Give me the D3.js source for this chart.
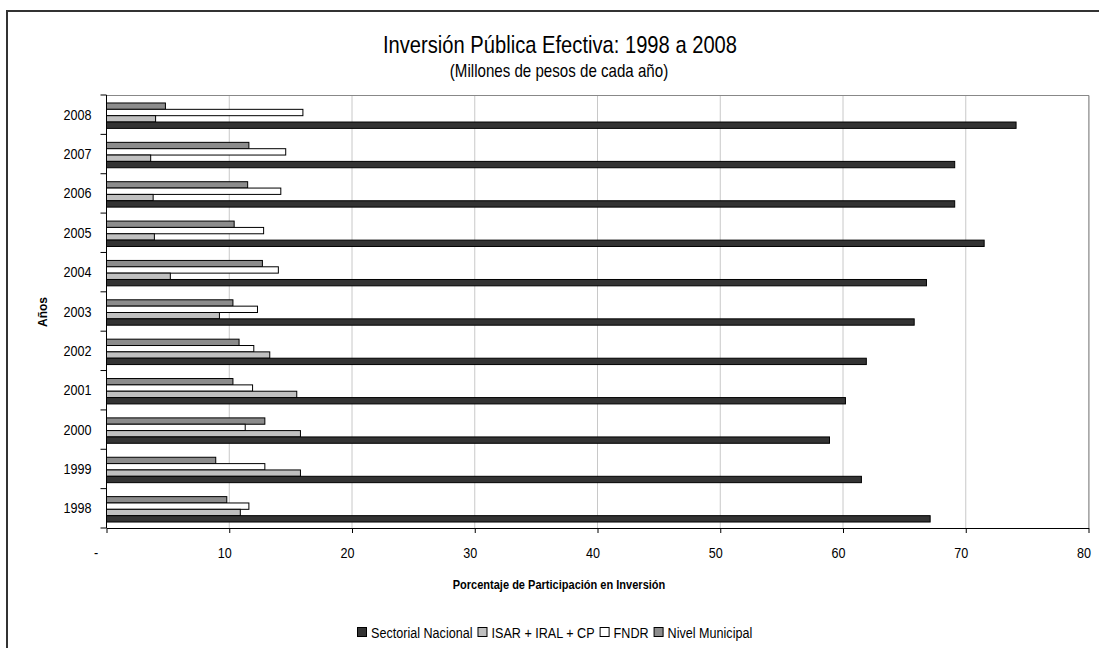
<!DOCTYPE html>
<html>
<head>
<meta charset="utf-8">
<script src="https://cdn.jsdelivr.net/npm/d3@7"></script>
<style>
  body { margin: 0; background: #fff; }
  svg { display: block; font-family: "Liberation Sans", Arial, sans-serif; }
</style>
</head>
<body>
<div id="chart"></div>
<script>
// years top to bottom as drawn
const years = ["2008", "2007", "2006", "2005", "2004", "2003", "2002", "2001", "2000", "1999", "1998"];
// series, top bar to bottom bar inside each year
const seriesNames = ["Nivel Municipal", "FNDR", "ISAR + IRAL + CP", "Sectorial Nacional"];
const nivelMunicipal = [4.8, 11.6, 11.5, 10.4, 12.7, 10.3, 10.8, 10.3, 12.9, 8.9, 9.8];
const fndr = [16.0, 14.6, 14.2, 12.8, 14.0, 12.3, 12.0, 11.9, 11.3, 12.9, 11.6];
const isar = [4.0, 3.6, 3.8, 3.9, 5.2, 9.2, 13.3, 15.5, 15.8, 15.8, 10.9];
const sectorial = [74.1, 69.1, 69.1, 71.5, 66.8, 65.8, 61.9, 60.2, 58.9, 61.5, 67.1];
const xTicks = [0, 10, 20, 30, 40, 50, 60, 70, 80];
const legendOrder = ["Sectorial Nacional", "ISAR + IRAL + CP", "FNDR", "Nivel Municipal"];

const colors = {
  "Nivel Municipal": "#8c8c8c",
  "FNDR": "#ffffff",
  "ISAR + IRAL + CP": "#c0c0c0",
  "Sectorial Nacional": "#333333"
};
const valuesBySeries = {
  "Nivel Municipal": nivelMunicipal,
  "FNDR": fndr,
  "ISAR + IRAL + CP": isar,
  "Sectorial Nacional": sectorial
};

const W = 1099, H = 648;
const plotLeft = 106.5, plotRight = 1088.5, plotTop = 95, plotBottom = 528;
const narrow = 0.84; // squeeze text to look like Arial Narrow

const svg = d3.select("#chart").append("svg")
  .attr("width", W)
  .attr("height", H);

// outer chart border (runs off the picture on right and bottom)
svg.append("rect")
  .attr("x", 7).attr("y", 11)
  .attr("width", 1200).attr("height", 800)
  .attr("fill", "none")
  .attr("stroke", "#333")
  .attr("stroke-width", 2);

const x = d3.scaleLinear().domain([0, 80]).range([plotLeft, plotRight]);
const y = d3.scaleBand().domain(years).range([plotTop, plotBottom]);
const yInner = d3.scaleBand().domain(seriesNames).range([0, y.bandwidth()]).paddingOuter(1.1);

// places a squeezed text at x,y
const label = (parent, tx, ty, str, size, anchor, sx) => {
  return parent.append("text")
    .attr("transform", `translate(${tx},${ty}) scale(${sx || narrow},1)`)
    .attr("text-anchor", anchor || "middle")
    .attr("font-size", size)
    .attr("fill", "#000")
    .text(str);
};

// gridlines
svg.append("g")
  .selectAll("line")
  .data(xTicks.slice(1))
  .enter()
  .append("line")
  .attr("x1", d => x(d)).attr("x2", d => x(d))
  .attr("y1", plotTop).attr("y2", plotBottom)
  .attr("stroke", "#c8c8c8")
  .attr("stroke-width", 1);

// plot area frame (top + right grey)
svg.append("path")
  .attr("d", `M${plotLeft},${plotTop + 0.5}H${plotRight + 0.5}V${plotBottom}`)
  .attr("fill", "none")
  .attr("stroke", "#888")
  .attr("stroke-width", 1);

// bars
const rows = [];
years.forEach((yr, i) => {
  seriesNames.forEach(s => {
    rows.push({ year: yr, series: s, value: valuesBySeries[s][i] });
  });
});

svg.append("g")
  .selectAll("rect")
  .data(rows)
  .enter()
  .append("rect")
  .attr("x", x(0))
  .attr("y", d => y(d.year) + yInner(d.series) + 1)
  .attr("width", d => x(d.value) - x(0))
  .attr("height", yInner.bandwidth())
  .attr("fill", d => colors[d.series])
  .attr("stroke", "#000")
  .attr("stroke-width", 1);

// x axis
const xAxis = d3.axisBottom(x)
  .tickValues(xTicks)
  .tickSizeInner(5)
  .tickSizeOuter(0)
  .tickFormat(d => d === 0 ? "-" : d);

const gx = svg.append("g")
  .attr("transform", `translate(0, ${plotBottom})`)
  .call(xAxis);
gx.attr("font-family", null);
gx.select(".domain").attr("stroke", "#000");
gx.selectAll(".tick line").attr("stroke", "#000");
gx.selectAll(".tick text")
  .attr("font-size", 15)
  .attr("fill", "#000")
  .attr("y", 0)
  .attr("dy", null)
  .attr("transform", d => `translate(${d === 0 ? -11 : -5}, 30) scale(${narrow},1)`);

// y axis: tick marks sit between years
const gy = svg.append("g")
  .attr("transform", `translate(${plotLeft}, 0)`);
gy.append("line")
  .attr("x1", 0).attr("x2", 0)
  .attr("y1", plotTop).attr("y2", plotBottom)
  .attr("stroke", "#000");
gy.selectAll(".ytick")
  .data(d3.range(years.length + 1))
  .enter()
  .append("line")
  .attr("class", "ytick")
  .attr("x1", -6).attr("x2", 0)
  .attr("y1", i => y.range()[0] + i * y.step())
  .attr("y2", i => y.range()[0] + i * y.step())
  .attr("stroke", "#000");
years.forEach(yr => {
  label(gy, -15, y(yr) + y.bandwidth() / 2 + 5, yr, 15, "end");
});

// titles
label(svg, 560, 53, "Inversión Pública Efectiva: 1998 a 2008", 24);
label(svg, 559, 77, "(Millones de pesos de cada año)", 18);

svg.append("text")
  .attr("transform", `translate(559, 589) scale(0.92,1)`)
  .attr("text-anchor", "middle")
  .attr("font-size", 12)
  .attr("font-weight", "bold")
  .text("Porcentaje de Participación en Inversión");

svg.append("text")
  .attr("transform", "translate(47, 312) rotate(-90)")
  .attr("text-anchor", "middle")
  .attr("font-size", 12)
  .attr("font-weight", "bold")
  .text("Años");

// legend
const legend = svg.append("g").attr("transform", "translate(357, 633)");
let lx = 0;
legendOrder.forEach(name => {
  const g = legend.append("g").attr("transform", `translate(${lx}, 0)`);
  g.append("rect")
    .attr("x", 0.5).attr("y", -5.5)
    .attr("width", 9).attr("height", 9)
    .attr("fill", colors[name])
    .attr("stroke", "#000");
  const t = label(g, 14, 5, name, 15, "start");
  lx += 14 + t.node().getComputedTextLength() * narrow + 5;
});
</script>
</body>
</html>
